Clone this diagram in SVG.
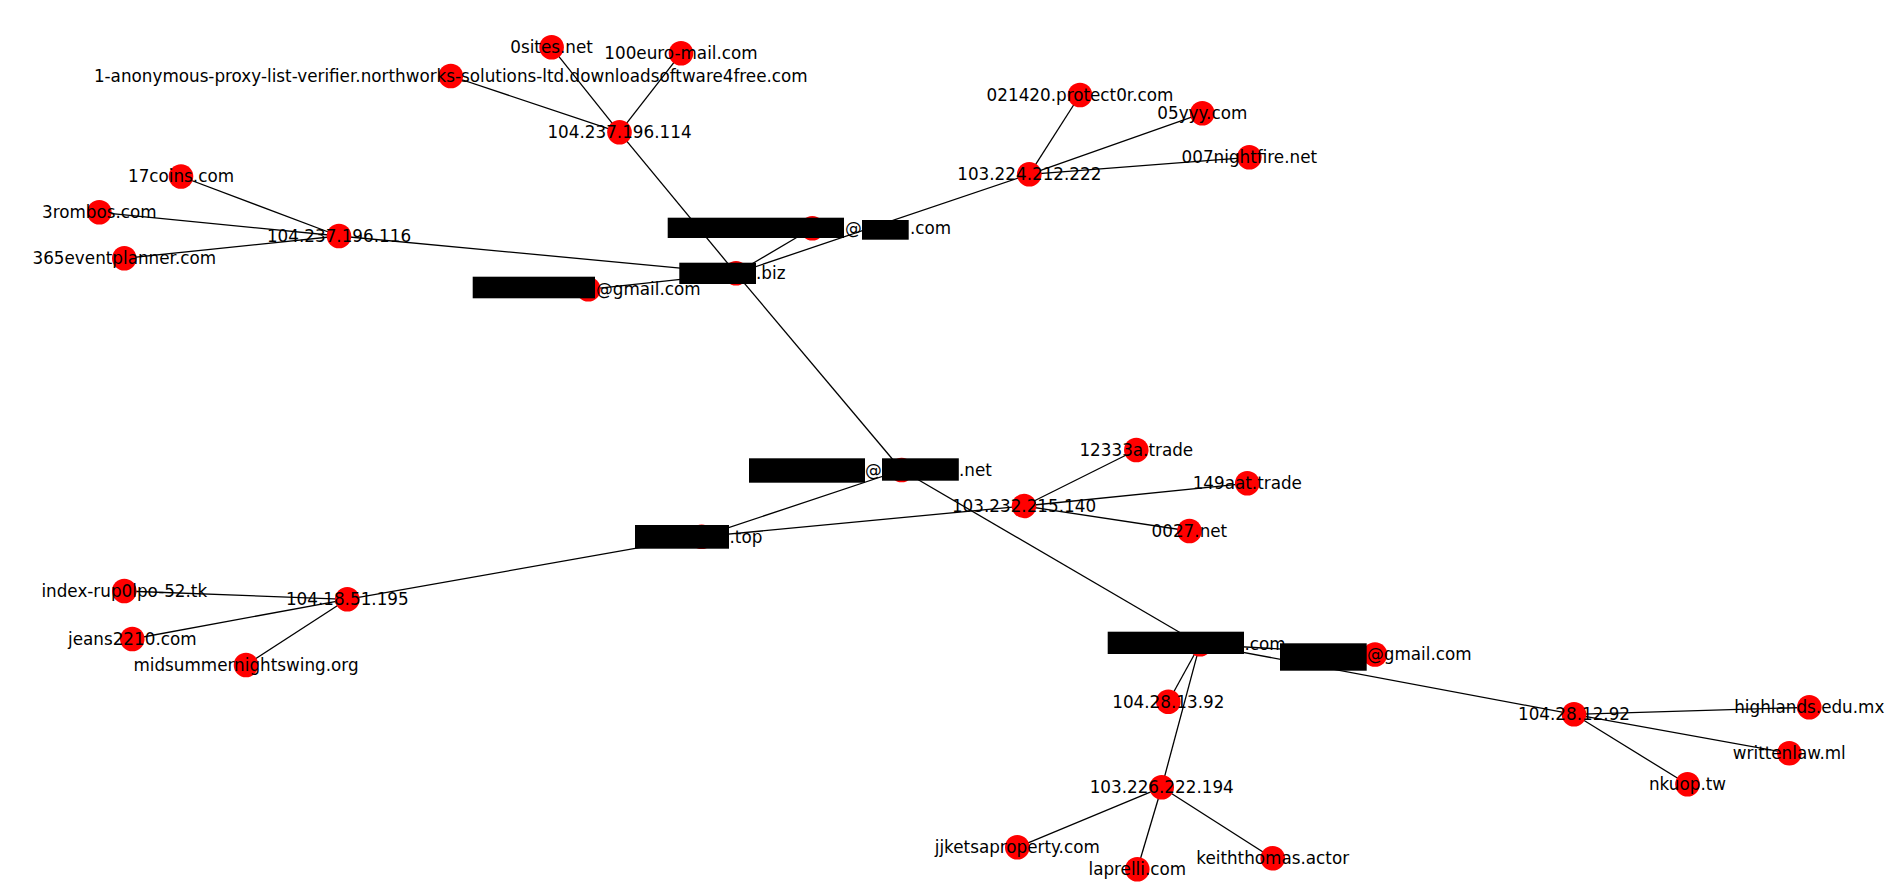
<svg xmlns="http://www.w3.org/2000/svg" width="1887" height="895" viewBox="0 0 1887 895">
<style>
.e line{stroke:#000;stroke-width:1.3}
.n circle{fill:#ff0000}
text{font-family:"DejaVu Sans","Liberation Sans",sans-serif;font-size:16.8px;fill:#000}
.n text{text-anchor:middle}
.r rect{fill:#000}
</style>
<rect width="1887" height="895" fill="#fff"/>
<g id="edges" class="e">
<line x1="619.5" y1="132.3" x2="551.6" y2="47.3"/>
<line x1="619.5" y1="132.3" x2="681" y2="53.3"/>
<line x1="619.5" y1="132.3" x2="450.8" y2="76"/>
<line x1="619.5" y1="132.3" x2="736" y2="273.3"/>
<line x1="736" y1="273.3" x2="901.6" y2="470"/>
<line x1="736" y1="273.3" x2="339" y2="236"/>
<line x1="736" y1="273.3" x2="588.3" y2="289.3"/>
<line x1="736" y1="273.3" x2="812.3" y2="228.3"/>
<line x1="736" y1="273.3" x2="1029.3" y2="174.3"/>
<line x1="339" y1="236" x2="181" y2="176.5"/>
<line x1="339" y1="236" x2="99.3" y2="212.3"/>
<line x1="339" y1="236" x2="124.3" y2="258.3"/>
<line x1="1029.3" y1="174.3" x2="1080" y2="95"/>
<line x1="1029.3" y1="174.3" x2="1202.3" y2="113.3"/>
<line x1="1029.3" y1="174.3" x2="1249.3" y2="157.3"/>
<line x1="901.6" y1="470" x2="701.6" y2="536.7"/>
<line x1="901.6" y1="470" x2="1200" y2="644.3"/>
<line x1="701.6" y1="536.7" x2="1024" y2="506"/>
<line x1="701.6" y1="536.7" x2="347.3" y2="599.3"/>
<line x1="1024" y1="506" x2="1136.3" y2="450"/>
<line x1="1024" y1="506" x2="1247.3" y2="483.3"/>
<line x1="1024" y1="506" x2="1189.4" y2="531"/>
<line x1="347.3" y1="599.3" x2="124.3" y2="591"/>
<line x1="347.3" y1="599.3" x2="132.3" y2="639"/>
<line x1="347.3" y1="599.3" x2="246" y2="665"/>
<line x1="1200" y1="644.3" x2="1375" y2="654.5"/>
<line x1="1200" y1="644.3" x2="1168.3" y2="701.7"/>
<line x1="1200" y1="644.3" x2="1161.7" y2="787.3"/>
<line x1="1200" y1="644.3" x2="1574" y2="714.3"/>
<line x1="1574" y1="714.3" x2="1809.3" y2="707.3"/>
<line x1="1574" y1="714.3" x2="1789.3" y2="753.3"/>
<line x1="1574" y1="714.3" x2="1687.5" y2="784.3"/>
<line x1="1161.7" y1="787.3" x2="1017.3" y2="847.3"/>
<line x1="1161.7" y1="787.3" x2="1137.3" y2="869.3"/>
<line x1="1161.7" y1="787.3" x2="1272.7" y2="858.3"/>
</g>
<g id="n_104_237_196_114" class="n"><circle cx="619.5" cy="132.3" r="12.3"/><text x="619.5" y="138.1">104.237.196.114</text></g>
<g id="n_0sites" class="n"><circle cx="551.6" cy="47.3" r="12.3"/><text x="551.6" y="53.1">0sites.net</text></g>
<g id="n_100euro" class="n"><circle cx="681" cy="53.3" r="12.3"/><text x="681" y="59.1">100euro-mail.com</text></g>
<g id="n_1anon" class="n"><circle cx="450.8" cy="76" r="12.3"/><text x="450.8" y="81.8">1-anonymous-proxy-list-verifier.northworks-solutions-ltd.downloadsoftware4free.com</text></g>
<g id="n_104_237_196_116" class="n"><circle cx="339" cy="236" r="12.3"/><text x="339" y="241.8">104.237.196.116</text></g>
<g id="n_17coins" class="n"><circle cx="181" cy="176.5" r="12.3"/><text x="181" y="182.3">17coins.com</text></g>
<g id="n_3rombos" class="n"><circle cx="99.3" cy="212.3" r="12.3"/><text x="99.3" y="218.1">3rombos.com</text></g>
<g id="n_365" class="n"><circle cx="124.3" cy="258.3" r="12.3"/><text x="124.3" y="264.1">365eventplanner.com</text></g>
<g id="n_103_224_212_222" class="n"><circle cx="1029.3" cy="174.3" r="12.3"/><text x="1029.3" y="180.1">103.224.212.222</text></g>
<g id="n_021420" class="n"><circle cx="1080" cy="95" r="12.3"/><text x="1080" y="100.8">021420.protect0r.com</text></g>
<g id="n_05yyy" class="n"><circle cx="1202.3" cy="113.3" r="12.3"/><text x="1202.3" y="119.1">05yyy.com</text></g>
<g id="n_007" class="n"><circle cx="1249.3" cy="157.3" r="12.3"/><text x="1249.3" y="163.1">007nightfire.net</text></g>
<g id="n_email_top" class="n"><circle cx="812.3" cy="228.3" r="12.3"/><text x="845" y="234.1" style="text-anchor:start">@</text><text x="910" y="234.1" style="text-anchor:start">.com</text></g>
<g id="n_biz" class="n"><circle cx="736" cy="273.3" r="12.3"/><text x="756" y="279.1" style="text-anchor:start">.biz</text></g>
<g id="n_gmail_left" class="n"><circle cx="588.3" cy="289.3" r="12.3"/><text x="596" y="295.1" style="text-anchor:start">@gmail.com</text></g>
<g id="n_email_net" class="n"><circle cx="901.6" cy="470" r="12.3"/><text x="865" y="475.8" style="text-anchor:start">@</text><text x="959" y="475.8" style="text-anchor:start">.net</text></g>
<g id="n_12333a" class="n"><circle cx="1136.3" cy="450" r="12.3"/><text x="1136.3" y="455.8">12333a.trade</text></g>
<g id="n_149aat" class="n"><circle cx="1247.3" cy="483.3" r="12.3"/><text x="1247.3" y="489.1">149aat.trade</text></g>
<g id="n_103_232_215_140" class="n"><circle cx="1024" cy="506" r="12.3"/><text x="1024" y="511.8">103.232.215.140</text></g>
<g id="n_0027" class="n"><circle cx="1189.4" cy="531" r="12.3"/><text x="1189.4" y="536.8">0027.net</text></g>
<g id="n_top" class="n"><circle cx="701.6" cy="536.7" r="12.3"/><text x="729.5" y="542.5" style="text-anchor:start">.top</text></g>
<g id="n_104_18_51_195" class="n"><circle cx="347.3" cy="599.3" r="12.3"/><text x="347.3" y="605.1">104.18.51.195</text></g>
<g id="n_index" class="n"><circle cx="124.3" cy="591" r="12.3"/><text x="124.3" y="596.8">index-rup0lpo-52.tk</text></g>
<g id="n_jeans" class="n"><circle cx="132.3" cy="639" r="12.3"/><text x="132.3" y="644.8">jeans2210.com</text></g>
<g id="n_midsummer" class="n"><circle cx="246" cy="665" r="12.3"/><text x="246" y="670.8">midsummernightswing.org</text></g>
<g id="n_com" class="n"><circle cx="1200" cy="644.3" r="12.3"/><text x="1244.5" y="650.1" style="text-anchor:start">.com</text></g>
<g id="n_gmail_right" class="n"><circle cx="1375" cy="654.5" r="12.3"/><text x="1367" y="660.3" style="text-anchor:start">@gmail.com</text></g>
<g id="n_104_28_13_92" class="n"><circle cx="1168.3" cy="701.7" r="12.3"/><text x="1168.3" y="707.5">104.28.13.92</text></g>
<g id="n_104_28_12_92" class="n"><circle cx="1574" cy="714.3" r="12.3"/><text x="1574" y="720.1">104.28.12.92</text></g>
<g id="n_highlands" class="n"><circle cx="1809.3" cy="707.3" r="12.3"/><text x="1809.3" y="713.1">highlands.edu.mx</text></g>
<g id="n_writtenlaw" class="n"><circle cx="1789.3" cy="753.3" r="12.3"/><text x="1789.3" y="759.1">writtenlaw.ml</text></g>
<g id="n_nkuop" class="n"><circle cx="1687.5" cy="784.3" r="12.3"/><text x="1687.5" y="790.1">nkuop.tw</text></g>
<g id="n_103_226_222_194" class="n"><circle cx="1161.7" cy="787.3" r="12.3"/><text x="1161.7" y="793.1">103.226.222.194</text></g>
<g id="n_jjketsa" class="n"><circle cx="1017.3" cy="847.3" r="12.3"/><text x="1017.3" y="853.1">jjketsaproperty.com</text></g>
<g id="n_laprelli" class="n"><circle cx="1137.3" cy="869.3" r="12.3"/><text x="1137.3" y="875.1">laprelli.com</text></g>
<g id="n_keith" class="n"><circle cx="1272.7" cy="858.3" r="12.3"/><text x="1272.7" y="864.1">keiththomas.actor</text></g>
<g id="redactions" class="r">
<rect x="667.7" y="217.7" width="176.3" height="20.3"/>
<rect x="862" y="220" width="46.7" height="19.7"/>
<rect x="679.3" y="262.7" width="76.7" height="21.3"/>
<rect x="472.7" y="276.7" width="122.3" height="21.6"/>
<rect x="749" y="458.3" width="116" height="24.4"/>
<rect x="882" y="458.3" width="76.8" height="22.4"/>
<rect x="635" y="525" width="94" height="23.7"/>
<rect x="1107.7" y="631.7" width="136.3" height="22.3"/>
<rect x="1280" y="643.3" width="86.7" height="27.4"/>
</g>
</svg>
